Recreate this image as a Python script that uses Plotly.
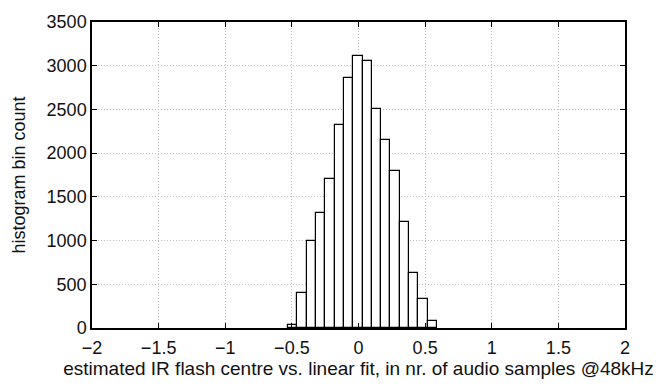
import plotly.graph_objects as go

# Histogram of estimated IR flash centre offsets (bin width 0.07 samples)
bin_centres = [-0.495, -0.425, -0.355, -0.285, -0.215, -0.145, -0.075, -0.005,
               0.065, 0.135, 0.205, 0.275, 0.345, 0.415, 0.485, 0.555]
bin_counts = [40, 400, 1000, 1310, 1710, 2320, 2860, 3110,
              3050, 2510, 2150, 1800, 1210, 630, 330, 75]
bin_width = 0.07

x_ticks = [-2, -1.5, -1, -0.5, 0, 0.5, 1, 1.5, 2]
x_tick_labels = ["\u22122", "\u22121.5", "\u22121", "\u22120.5", "0", "0.5", "1", "1.5", "2"]
y_ticks = [0, 500, 1000, 1500, 2000, 2500, 3000, 3500]

font_family = "Liberation Sans, Arial, sans-serif"

fig = go.Figure(
    go.Bar(
        x=bin_centres,
        y=bin_counts,
        width=bin_width,
        marker=dict(color="white", line=dict(color="black", width=1.2)),
    )
)

axis_common = dict(
    showline=True,
    linecolor="black",
    linewidth=1.5,
    mirror="ticks",
    ticks="inside",
    ticklen=5,
    tickcolor="black",
    showgrid=True,
    gridcolor="#bdbdbd",
    griddash="1px,2px",
    gridwidth=1,
    zeroline=False,
    tickfont=dict(family=font_family, size=18, color="#111"),
)

fig.update_layout(
    width=671,
    height=388,
    margin=dict(l=92, r=46, t=15, b=57),
    paper_bgcolor="white",
    plot_bgcolor="white",
    showlegend=False,
    bargap=0,
    xaxis=dict(
        range=[-2, 2],
        tickvals=x_ticks,
        ticktext=x_tick_labels,
        ticklabelstandoff=3,
        title=dict(
            text="estimated IR flash centre vs. linear fit, in nr. of audio samples @48kHz",
            font=dict(family=font_family, size=19, color="#111"),
            standoff=4,
        ),
        **axis_common,
    ),
    yaxis=dict(
        range=[0, 3500],
        tickvals=y_ticks,
        title=dict(
            text="histogram bin count",
            font=dict(family=font_family, size=18, color="#111"),
            standoff=16,
        ),
        **axis_common,
    ),
)

fig.write_html("out.html")
